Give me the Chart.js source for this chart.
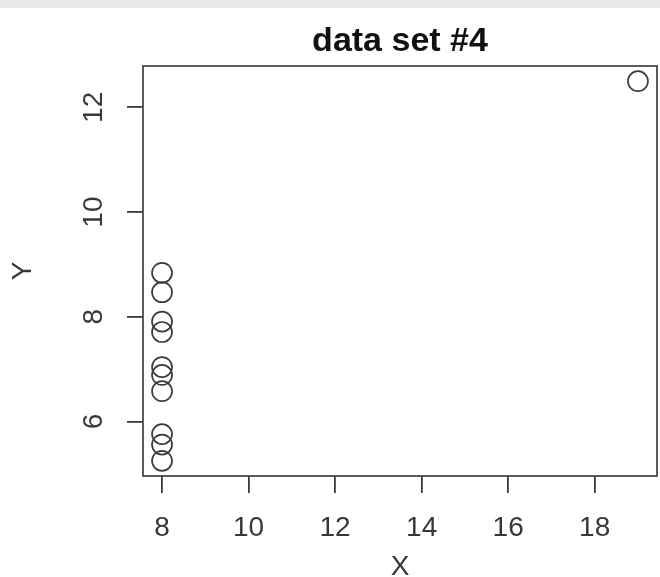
<!DOCTYPE html>
<html lang="en">
<head>
  <meta charset="UTF-8" />
  <title>data set #4</title>
  <script src="https://cdn.jsdelivr.net/npm/chart.js"></script>
  <style>
    body { margin: 0; background: #fff; font-family: 'Liberation Sans', Arial, sans-serif; }
    .strip { position: absolute; left: 0; top: 0; width: 660px; height: 8px; background: #e9e9e9; }
    .wrap { position: relative; width: 660px; height: 577px; }
  </style>
</head>
<body>
  <div class="wrap">
    <div class="strip"></div>
    <canvas id="chart"></canvas>
  </div>

  <script>
    // Anscombe data set #4
    const xValues = [8, 8, 8, 8, 8, 8, 8, 19, 8, 8, 8];
    const yValues = [6.58, 5.76, 7.71, 8.84, 8.47, 7.04, 5.25, 12.50, 5.56, 7.91, 6.89];
    const xTicks = [8, 10, 12, 14, 16, 18];
    const yTicks = [6, 8, 10, 12];

    const ink = '#3a3a3a';

    // R style box around the plot region
    const boxPlugin = {
      id: 'box',
      afterDraw(chart) {
        const a = chart.chartArea, c = chart.ctx;
        c.save();
        c.strokeStyle = '#4a4a4a';
        c.lineWidth = 1.8;
        c.strokeRect(a.left, a.top, a.right - a.left, a.bottom - a.top);
        c.restore();
      }
    };

    new Chart(document.getElementById('chart').getContext('2d'), {
      type: 'scatter',
      data: {
        datasets: [{
          data: xValues.map((x, i) => ({ x: x, y: yValues[i] })),
          pointRadius: 10,
          pointBorderWidth: 1.7,
          pointBorderColor: ink,
          pointBackgroundColor: 'rgba(0,0,0,0)'
        }]
      },
      options: {
        responsive: true,
        maintainAspectRatio: false,
        animation: false,
        layout: { autoPadding: false, padding: { left: 0, right: 3, top: 0, bottom: 0 } },
        plugins: {
          legend: { display: false },
          tooltip: { enabled: false },
          title: {
            display: true,
            text: 'data set #4',
            fullSize: false,
            color: '#111',
            font: { family: 'Liberation Sans', size: 34, weight: 'bold', lineHeight: 1.0 },
            padding: { top: 25, bottom: 7 }
          }
        },
        scales: {
          x: {
            type: 'linear',
            min: 7.56,
            max: 19.44,
            afterBuildTicks: s => { s.ticks = xTicks.map(v => ({ value: v })); },
            afterFit: s => { s.height = 101; },
            border: { display: false },
            grid: { drawOnChartArea: false, drawTicks: true, tickLength: 17, color: ink, lineWidth: 1.8 },
            ticks: { color: '#383838', padding: 18, font: { family: 'Liberation Sans', size: 28 } },
            title: {
              display: true, text: 'X', color: '#383838',
              font: { family: 'Liberation Sans', size: 28, lineHeight: 0.7 }, padding: { top: 0, bottom: 0 }
            }
          },
          y: {
            type: 'linear',
            min: 4.96,
            max: 12.79,
            afterBuildTicks: s => { s.ticks = yTicks.map(v => ({ value: v })); },
            afterFit: s => { s.width = 143; },
            border: { display: false },
            grid: { drawOnChartArea: false, drawTicks: true, tickLength: 16, color: ink, lineWidth: 1.8 },
            ticks: {
              color: '#383838', padding: 17, crossAlign: 'center',
              minRotation: 90, maxRotation: 90,
              font: { family: 'Liberation Sans', size: 28 }
            },
            title: {
              display: true, text: 'Y', color: '#383838',
              font: { family: 'Liberation Sans', size: 28 }, padding: { top: 6, bottom: 0 }
            }
          }
        }
      },
      plugins: [boxPlugin]
    });
  </script>
</body>
</html>
